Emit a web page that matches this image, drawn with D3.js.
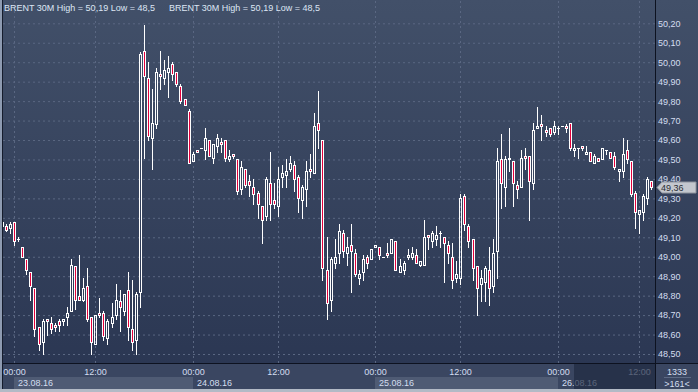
<!DOCTYPE html>
<html>
<head>
<meta charset="utf-8">
<script src="https://cdn.jsdelivr.net/npm/d3@7"></script>
<style>
body { margin: 0; background: #2e3a55; overflow: hidden; }
svg { display: block; }
text { font-family: "Liberation Sans", Arial, sans-serif; font-size: 9px; }
</style>
</head>
<body>
<script>
// BRENT 30M candles, 161 bars (oldest first)
var opens = [49.16,49.16,49.15,49.18,49.09,49.05,48.99,48.92,48.84,48.64,
  48.56,48.68,48.66,48.65,48.67,48.67,48.69,48.72,48.95,48.80,
  48.78,48.85,48.69,48.55,48.71,48.71,48.58,48.66,48.70,48.77,
  48.72,48.83,48.63,48.57,48.82,50.06,49.92,49.61,49.68,49.94,
  49.92,49.95,49.99,49.95,49.88,49.81,49.75,49.49,49.55,49.56,
  49.55,49.60,49.51,49.57,49.59,49.60,49.50,49.53,49.50,49.35,
  49.45,49.39,49.36,49.33,49.26,49.21,49.38,49.29,49.26,49.41,
  49.42,49.45,49.47,49.41,49.29,49.35,49.45,49.43,49.69,49.60,
  48.93,48.78,48.97,49.02,49.12,49.02,49.06,49.02,48.89,48.92,
  49.00,48.99,49.05,49.05,49.00,49.02,49.02,49.08,48.92,48.93,
  49.00,49.00,49.01,48.96,48.96,49.11,49.08,49.09,49.12,49.10,
  49.06,49.00,48.89,48.89,49.31,49.16,49.09,48.95,48.86,48.87,
  48.93,48.85,49.03,49.50,49.36,49.51,49.49,49.37,49.36,49.52,
  49.52,49.38,49.66,49.68,49.65,49.66,49.64,49.66,49.67,49.67,
  49.69,49.55,49.56,49.57,49.53,49.54,49.48,49.51,49.50,49.55,
  49.54,49.52,49.44,49.44,49.55,49.49,49.33,49.22,49.23,49.30,
  49.39];

var highs = [49.19,49.17,49.18,49.18,49.10,49.05,48.99,48.92,48.84,48.64,
  48.68,48.68,48.69,48.66,48.68,48.68,48.74,48.99,48.95,49.01,
  48.89,48.94,48.69,48.70,48.79,48.72,48.68,48.76,48.86,48.83,
  48.81,48.92,48.88,48.82,50.05,50.19,50.00,49.86,49.97,50.06,
  50.01,50.03,50.00,49.95,49.89,49.81,49.76,49.54,49.55,49.56,
  49.66,49.60,49.58,49.63,49.61,49.60,49.55,49.53,49.50,49.49,
  49.45,49.42,49.40,49.34,49.26,49.41,49.54,49.38,49.46,49.47,
  49.50,49.52,49.49,49.42,49.37,49.49,49.53,49.74,49.85,49.60,
  49.10,49.00,49.09,49.17,49.14,49.10,49.17,49.04,48.93,49.01,
  49.01,49.04,49.06,49.05,49.00,49.07,49.09,49.08,48.99,48.98,
  49.04,49.05,49.04,48.98,49.19,49.11,49.13,49.16,49.13,49.10,
  49.08,49.07,48.98,49.32,49.32,49.17,49.09,48.95,48.93,48.95,
  49.05,49.09,49.56,49.63,49.52,49.66,49.49,49.39,49.55,49.56,
  49.52,49.69,49.77,49.73,49.67,49.66,49.70,49.67,49.67,49.68,
  49.69,49.58,49.56,49.57,49.57,49.54,49.53,49.51,49.56,49.55,
  49.54,49.54,49.45,49.61,49.60,49.49,49.34,49.24,49.32,49.41,
  49.39];

var lows = [49.15,49.13,49.12,49.06,49.08,49.00,48.91,48.78,48.59,48.52,
  48.50,48.60,48.61,48.62,48.62,48.65,48.65,48.72,48.73,48.78,
  48.77,48.67,48.50,48.55,48.69,48.57,48.55,48.64,48.68,48.62,
  48.70,48.57,48.52,48.50,48.74,49.51,49.60,49.45,49.66,49.86,
  49.89,49.82,49.91,49.88,49.79,49.78,49.48,49.49,49.54,49.56,
  49.50,49.52,49.48,49.54,49.54,49.49,49.49,49.51,49.32,49.32,
  49.36,49.31,49.27,49.20,49.07,49.19,49.19,49.25,49.21,49.36,
  49.36,49.44,49.34,49.23,49.20,49.26,49.41,49.43,49.56,48.88,
  48.68,48.72,48.94,48.97,49.00,48.96,48.82,48.90,48.86,48.88,
  48.94,48.99,49.05,48.99,49.00,49.00,49.02,48.93,48.92,48.91,
  48.99,48.99,48.97,48.95,48.96,49.04,49.05,49.06,49.05,48.87,
  48.97,48.84,48.87,48.86,49.14,49.05,48.88,48.70,48.77,48.77,
  48.75,48.82,48.89,49.25,49.26,49.44,49.26,49.30,49.36,49.45,
  49.19,49.35,49.66,49.60,49.62,49.62,49.63,49.63,49.67,49.64,
  49.55,49.52,49.51,49.55,49.53,49.49,49.48,49.49,49.50,49.53,
  49.51,49.45,49.39,49.41,49.48,49.31,49.15,49.12,49.19,49.27,
  49.35];

var closes = [49.18,49.14,49.17,49.08,49.09,49.00,48.93,48.85,48.63,48.55,
  48.67,48.67,48.63,48.64,48.65,48.68,48.71,48.96,48.78,48.78,
  48.84,48.68,48.56,48.70,48.70,48.59,48.67,48.69,48.78,48.74,
  48.81,48.64,48.56,48.81,50.04,49.93,49.62,49.69,49.95,49.93,
  49.96,49.97,49.94,49.89,49.80,49.78,49.48,49.53,49.54,49.56,
  49.61,49.52,49.58,49.61,49.58,49.51,49.52,49.52,49.34,49.46,
  49.37,49.37,49.32,49.27,49.19,49.40,49.27,49.27,49.40,49.43,
  49.44,49.48,49.40,49.30,49.36,49.44,49.44,49.67,49.65,48.94,
  48.76,48.99,49.00,49.13,49.03,49.05,49.03,48.91,48.91,48.99,
  48.97,49.04,49.06,49.01,49.00,49.01,49.09,48.93,48.95,48.97,
  49.01,49.02,48.97,48.98,49.10,49.10,49.12,49.11,49.12,49.07,
  49.02,48.88,48.91,49.30,49.17,49.08,48.94,48.84,48.89,48.94,
  48.84,49.02,49.49,49.38,49.50,49.50,49.38,49.35,49.51,49.51,
  49.39,49.65,49.67,49.67,49.64,49.63,49.67,49.66,49.67,49.66,
  49.56,49.56,49.56,49.56,49.54,49.49,49.52,49.49,49.56,49.55,
  49.51,49.46,49.45,49.53,49.50,49.32,49.23,49.24,49.31,49.40,
  49.36];

var yTicks = [48.50, 48.60, 48.70, 48.80, 48.90, 49.00, 49.10, 49.20, 49.30,
  49.40, 49.50, 49.60, 49.70, 49.80, 49.90, 50.00, 50.10, 50.20];
var xTickIdx = [3, 23, 47, 68, 92, 113, 137, 157];
var xTickLabels = ["00:00", "12:00", "00:00", "12:00", "00:00", "12:00", "00:00", "12:00"];
var dayIdx = [3, 47, 92, 137];
var dayLabels = ["23.08.16", "24.08.16", "25.08.16", "26.08.16"];
var title = "BRENT 30M High = 50,19 Low = 48,5";
var lastPrice = 49.36;
var barCount = "1333";
var shownBars = ">161<";

var width = 698,
    height = 392,
    plotLeft = 3,
    plotRight = 655,
    plotBottom = 363,
    axisBottom = 389;

var fmt = d3.formatLocale({decimal: ",", thousands: " ", grouping: [3], currency: ["", ""]}).format(".2f");

var svg = d3.select("body")
    .append("svg")
    .attr("width", width)
    .attr("height", height);

var defs = svg.append("defs");
var grad = defs.append("linearGradient")
    .attr("id", "bg")
    .attr("x1", 0).attr("y1", 0).attr("x2", 0).attr("y2", 1);
grad.append("stop").attr("offset", "0%").attr("stop-color", "#425069");
grad.append("stop").attr("offset", "100%").attr("stop-color", "#2b3753");

defs.append("clipPath")
    .attr("id", "plotclip")
  .append("rect")
    .attr("x", plotLeft).attr("y", 0)
    .attr("width", plotRight - plotLeft).attr("height", plotBottom);

// panels
svg.append("rect")
    .attr("x", 0).attr("y", 0)
    .attr("width", width).attr("height", plotBottom)
    .attr("fill", "url(#bg)");
svg.append("rect")
    .attr("x", 0).attr("y", plotBottom)
    .attr("width", width).attr("height", axisBottom - plotBottom)
    .attr("fill", "#3a4661");

var x = d3.scaleLinear()
    .domain([0, opens.length - 1])
    .rangeRound([2, 651]);

var y = d3.scaleLinear()
    .domain([48.5, 50.2])
    .range([354, 23.3]);

// grid
svg.append("g")
    .attr("class", "hgrid")
    .attr("transform", "translate(" + plotRight + ",0)")
    .call(d3.axisRight(y).tickValues(yTicks).tickSize(-(plotRight - plotLeft)).tickFormat(""))
    .call(function(g) { g.select(".domain").remove(); })
    .selectAll("line")
    .attr("stroke", "#5a6782")
    .attr("stroke-dasharray", "2,3");

svg.append("g")
    .attr("class", "vgrid")
    .attr("transform", "translate(0," + plotBottom + ")")
    .call(d3.axisBottom(x).tickValues(xTickIdx).tickSize(-plotBottom).tickFormat(""))
    .call(function(g) { g.select(".domain").remove(); })
    .selectAll("line")
    .attr("stroke", "#5a6782")
    .attr("stroke-dasharray", "2,3");

// candles
var plot = svg.append("g").attr("clip-path", "url(#plotclip)");

plot.selectAll("g.candle")
    .data(d3.range(opens.length))
  .enter().append("g")
    .attr("class", "candle")
    .each(function(i) {
        var g = d3.select(this);
        var cx = x(i);
        var o = opens[i], c = closes[i];
        var top = Math.round(y(Math.max(o, c))),
            bot = Math.round(y(Math.min(o, c))),
            hi = Math.round(y(highs[i])),
            lo = Math.round(y(lows[i]));
        if (hi < top) {
            g.append("line")
                .attr("x1", cx + 0.5).attr("x2", cx + 0.5)
                .attr("y1", hi).attr("y2", top)
                .attr("stroke", "#fff");
        }
        if (lo > bot) {
            g.append("line")
                .attr("x1", cx + 0.5).attr("x2", cx + 0.5)
                .attr("y1", bot + 1).attr("y2", lo + 1)
                .attr("stroke", "#fff");
        }
        if (bot - top < 1) {
            g.append("line")
                .attr("x1", cx - 1).attr("x2", cx + 2)
                .attr("y1", top + 0.5).attr("y2", top + 0.5)
                .attr("stroke", "#fff");
        } else {
            g.append("rect")
                .attr("x", cx - 0.5).attr("y", top + 0.5)
                .attr("width", 2).attr("height", bot - top)
                .attr("fill", c < o ? "#e3003b" : "none")
                .attr("stroke", "#fff");
        }
    });

// separators
svg.append("line")
    .attr("x1", 0).attr("x2", width)
    .attr("y1", plotBottom + 0.5).attr("y2", plotBottom + 0.5)
    .attr("stroke", "#0d1220");
svg.append("line")
    .attr("x1", plotRight + 0.5).attr("x2", plotRight + 0.5)
    .attr("y1", 0).attr("y2", axisBottom)
    .attr("stroke", "#0d1220");

// price axis
var yAxis = svg.append("g")
    .attr("transform", "translate(" + plotRight + ",0)")
    .call(d3.axisRight(y).tickValues(yTicks).tickSize(0).tickPadding(3).tickFormat(fmt));
yAxis.select(".domain").remove();
yAxis.selectAll("text")
    .attr("fill", "#d4def0")
    .style("font-family", "'Liberation Sans', Arial, sans-serif")
    .style("font-size", "9px");

// date bands
svg.selectAll("rect.band")
    .data([0, 2])
  .enter().append("rect")
    .attr("class", "band")
    .attr("x", function(d) { return x(dayIdx[d]); })
    .attr("y", 377)
    .attr("width", function(d) { return x(dayIdx[d + 1]) - x(dayIdx[d]); })
    .attr("height", 12)
    .attr("fill", "#4f5b74");

// time axis
var xAxis = svg.append("g")
    .attr("transform", "translate(0," + (plotBottom + 1) + ")")
    .call(d3.axisBottom(x).tickValues(xTickIdx).tickSize(0).tickPadding(4.5)
        .tickFormat(function(d, i) { return xTickLabels[i]; }));
xAxis.select(".domain").remove();
xAxis.selectAll("text")
    .attr("fill", "#d4def0")
    .style("font-family", "'Liberation Sans', Arial, sans-serif")
    .style("font-size", "9px");

svg.selectAll("text.day")
    .data(dayLabels)
  .enter().append("text")
    .attr("class", "day")
    .attr("x", function(d, i) { return x(dayIdx[i]) + 4; })
    .attr("y", 386)
    .attr("fill", "#d4def0")
    .text(function(d) { return d; });

// dimmed tail of the time axis
svg.append("rect")
    .attr("x", x(141)).attr("y", plotBottom + 1)
    .attr("width", plotRight - x(141)).attr("height", axisBottom - plotBottom - 1)
    .attr("fill", "#1f2940")
    .attr("opacity", 0.68);

// bar counter box
svg.append("text")
    .attr("x", 677).attr("y", 374.5)
    .attr("text-anchor", "middle")
    .attr("fill", "#d4def0")
    .text(barCount);
svg.append("line")
    .attr("x1", 664).attr("x2", 691)
    .attr("y1", 377.5).attr("y2", 377.5)
    .attr("stroke", "#5d6a84");
svg.append("text")
    .attr("x", 677).attr("y", 387)
    .attr("text-anchor", "middle")
    .attr("fill", "#d4def0")
    .text(shownBars);

// last price tag
var ly = Math.round(y(lastPrice)) + 0.5;
svg.append("path")
    .attr("d", "M657," + ly + "L662," + (ly - 5.5) + "L696," + (ly - 5.5) + "L696," + (ly + 5.5) + "L662," + (ly + 5.5) + "Z")
    .attr("fill", "#c3c7ce")
    .attr("stroke", "#8d939d");
svg.append("text")
    .attr("x", 661).attr("y", ly + 3.5)
    .attr("fill", "#2a2d33")
    .text(fmt(lastPrice));

// title
svg.selectAll("text.title")
    .data([4, 169])
  .enter().append("text")
    .attr("class", "title")
    .attr("x", function(d) { return d; })
    .attr("y", 11)
    .attr("fill", "#dde6f4")
    .text(title);

// frame
svg.append("rect")
    .attr("x", 0).attr("y", 0)
    .attr("width", 2).attr("height", height)
    .attr("fill", "#8e9bb1");
svg.append("line")
    .attr("x1", 2.5).attr("x2", 2.5)
    .attr("y1", 0).attr("y2", axisBottom)
    .attr("stroke", "#151c2c");
svg.append("rect")
    .attr("x", 0).attr("y", axisBottom)
    .attr("width", width).attr("height", height - axisBottom)
    .attr("fill", "#b3bac6");
</script>
</body>
</html>
